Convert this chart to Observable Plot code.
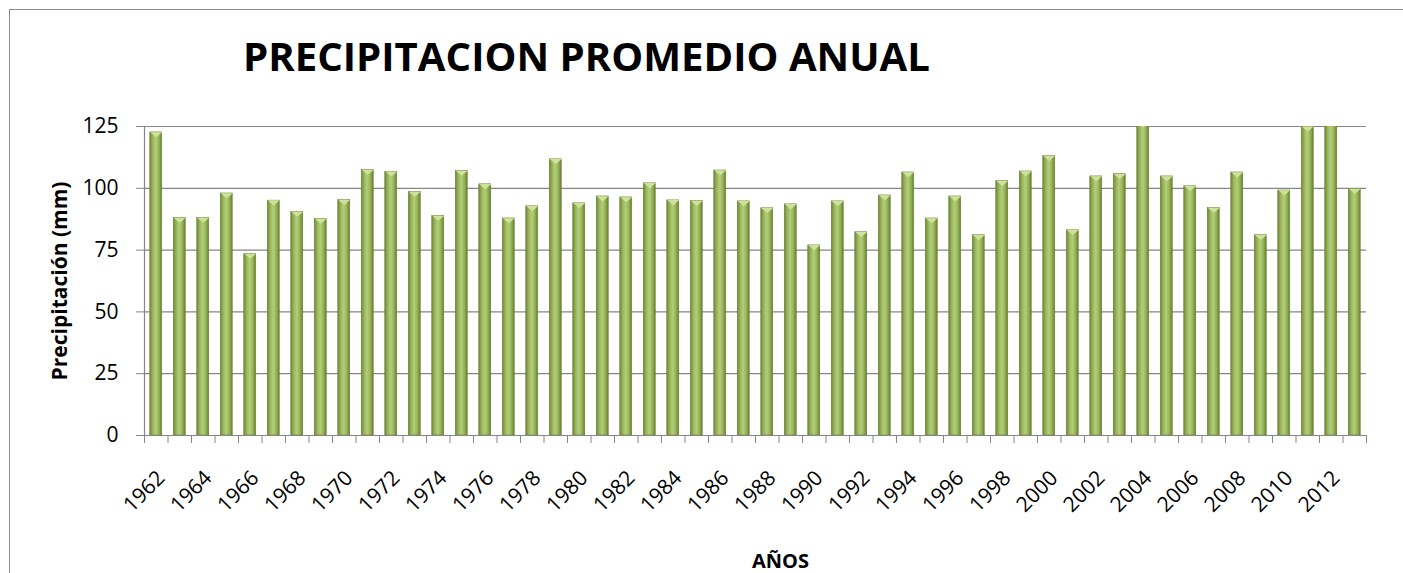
<!DOCTYPE html>
<html><head><meta charset="utf-8">
<script src="https://cdn.jsdelivr.net/npm/d3@7"></script>
<script src="https://cdn.jsdelivr.net/npm/@observablehq/plot@0.6"></script>
<style>
body{margin:0;background:#fff;overflow:hidden;}
#wrap{position:relative;width:1403px;height:573px;overflow:hidden;font-family:"Open Sans",sans-serif;}
#bl{position:absolute;left:8.5px;top:8.5px;width:1.6px;height:600px;background:#8c8c8c}
#bt{position:absolute;left:8.5px;top:8.5px;width:1420px;height:1.6px;background:#8c8c8c}
#title{position:absolute;left:243px;top:36px;font-weight:700;font-size:40px;line-height:40px;white-space:nowrap;transform-origin:0 0;color:#000}
#chart{position:absolute;left:0;top:0}
</style></head>
<body><div id="wrap"><div id="bl"></div><div id="bt"></div><div id="chart"></div><div id="title"></div></div>
<script>
const years = [1962,1963,1964,1965,1966,1967,1968,1969,1970,1971,1972,1973,1974,1975,1976,1977,1978,1979,1980,1981,1982,1983,1984,1985,1986,1987,1988,1989,1990,1991,1992,1993,1994,1995,1996,1997,1998,1999,2000,2001,2002,2003,2004,2005,2006,2007,2008,2009,2010,2011,2012,2013];
const values = [122.6,88.0,88.0,97.9,73.4,95.0,90.4,87.6,95.2,107.4,106.7,98.5,88.8,107.0,101.6,87.8,92.7,111.7,93.9,96.7,96.3,102.0,95.1,94.8,107.2,94.7,91.9,93.5,76.9,94.7,82.2,97.1,106.4,87.8,96.7,81.0,102.9,106.8,113.0,83.0,104.8,105.7,126.5,104.8,100.8,92.0,106.4,81.0,99.1,124.9,128.0,99.7];
const yTicks = [0,25,50,75,100,125];
const xTickLabels = [1962,1964,1966,1968,1970,1972,1974,1976,1978,1980,1982,1984,1986,1988,1990,1992,1994,1996,1998,2000,2002,2004,2006,2008,2010,2012];
const titleText = "PRECIPITACION PROMEDIO ANUAL";
const yLabel = "Precipitación (mm)";
const xLabel = "AÑOS";

const data = years.map((y,i)=>({year:y, value:values[i]}));
const W=1403,H=573,mL=144,mR=37,mT=126,mB=138;
const step=(W-mL-mR)/years.length;
const grid="#868686";
const cap = {draw(ctx,size){const s=Math.sqrt(size/Math.PI);ctx.moveTo(-s,-s*0.05);ctx.lineTo(s,-s*0.05);ctx.lineTo(0,s*0.8);ctx.closePath();}};

const svg = Plot.plot({
  width:W,height:H,marginLeft:mL,marginRight:mR,marginTop:mT,marginBottom:mB,
  style:{fontFamily:'"Open Sans", sans-serif',fontSize:"20px",color:"#000",background:"transparent",overflow:"visible"},
  x:{type:"band",domain:years,paddingInner:0.49,paddingOuter:0.245,round:false,axis:null},
  y:{domain:[0,125],axis:null},
  marks:[
    Plot.gridY(yTicks.filter(d=>d>0),{stroke:grid,strokeOpacity:1,strokeWidth:1.2}),
    Plot.barY(data,{x:"year",y:"value",fill:"url(#barGrad)",stroke:"#6b7f3c",strokeWidth:0.6,clip:true}),
    Plot.dot(data,{x:"year",y:"value",symbol:cap,r:6,fill:"#cfe29c",stroke:"none",clip:true}),
    Plot.ruleY([0],{stroke:grid,strokeWidth:1.2}),
    Plot.ruleX([years[0]],{dx:-step/2,stroke:grid,strokeWidth:1.2}),
    Plot.axisY({ticks:yTicks,tickSize:8,tickPadding:18,stroke:grid,fill:"#000",fontSize:21,label:null,tickFormat:d=>String(d)}),
    Plot.axisX({ticks:years,tickSize:8,tickFormat:()=>"",dx:-step/2,stroke:grid,label:null}),
    Plot.axisX({ticks:[years[years.length-1]],tickSize:8,tickFormat:()=>"",dx:step/2,stroke:grid,label:null}),
    Plot.axisX({ticks:xTickLabels,tickSize:0,tickRotate:-45,tickPadding:39,dx:5,fill:"#000",fontSize:21,label:null,tickFormat:d=>String(d)}),
    Plot.text([yLabel],{text:d=>d,frameAnchor:"left",rotate:-90,textAnchor:"middle",lineAnchor:"middle",dx:-84,fontWeight:"bold",fontSize:21,fill:"#000"}),
    Plot.text([xLabel],{text:d=>d,frameAnchor:"bottom",textAnchor:"middle",lineAnchor:"middle",dx:25,dy:126,fontWeight:"bold",fontSize:20,fill:"#000"})
  ]
});
d3.select(svg).insert("defs",":first-child").html(
  '<linearGradient id="barGrad" x1="0" x2="1" y1="0" y2="0">'+
  '<stop offset="0" stop-color="#6d8636"/><stop offset="0.25" stop-color="#9ab75a"/>'+
  '<stop offset="0.5" stop-color="#b4cd7c"/><stop offset="0.75" stop-color="#98b557"/>'+
  '<stop offset="1" stop-color="#66802f"/></linearGradient>');
document.getElementById("chart").appendChild(svg);
const t=document.getElementById("title");
t.textContent=titleText;
const w=t.getBoundingClientRect().width;
t.style.transform=`scaleX(${687/w})`;
</script>
</body></html>
